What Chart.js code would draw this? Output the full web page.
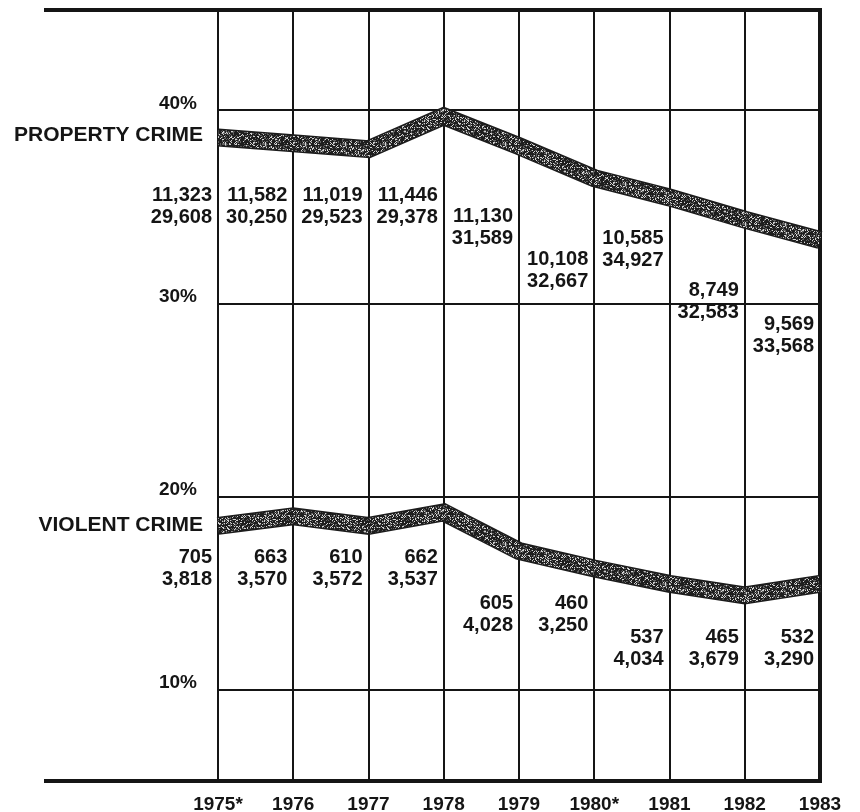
<!DOCTYPE html>
<html lang="en">
<head>
  <meta charset="UTF-8" />
  <title>Property and Violent Crime, 1975-1983</title>
  <script src="https://cdn.jsdelivr.net/npm/chart.js"></script>
  <style>
    html, body {
      margin: 0;
      padding: 0;
      background: #fff;
    }
    #wrap {
      width: 860px;
      height: 812px;
      position: relative;
    }
  </style>
</head>
<body>
  <div id="wrap"><canvas id="crimeChart"></canvas></div>

  <script>
    const years = ["1975*", "1976", "1977", "1978", "1979", "1980*", "1981", "1982", "1983"];

    // percent
    const propertyPct = [38.6, 38.3, 38.0, 39.7, 38.15, 36.5, 35.5, 34.35, 33.3];
    const violentPct = [18.5, 19.0, 18.5, 19.2, 17.2, 16.3, 15.5, 14.9, 15.5];

    // the two figures printed under each year
    const propertyCount = [11323, 11582, 11019, 11446, 11130, 10108, 10585, 8749, 9569];
    const propertyTotal = [29608, 30250, 29523, 29378, 31589, 32667, 34927, 32583, 33568];
    const violentCount = [705, 663, 610, 662, 605, 460, 537, 465, 532];
    const violentTotal = [3818, 3570, 3572, 3537, 4028, 3250, 4034, 3679, 3290];

    const yTicks = [10, 20, 30, 40];

    // where each pair of figures sits (axis percent)
    const propertyLabelAt = [35.6, 35.6, 35.6, 35.6, 34.5, 32.3, 33.35, 30.7, 28.95];
    const violentLabelAt = [16.85, 16.85, 16.85, 16.85, 14.5, 14.5, 12.75, 12.75, 12.75];

    const FONT = "'Liberation Sans', Arial, Helvetica, sans-serif";
    const INK = "#151515";

    const canvas = document.getElementById("crimeChart");
    const ctx = canvas.getContext("2d");

    // speckled grey fill for the bands, like the printed screen
    function stipple() {
      const size = 40;
      const c = document.createElement("canvas");
      c.width = size;
      c.height = size;
      const g = c.getContext("2d");
      const img = g.createImageData(size, size);
      for (let j = 0; j < size; j++) {
        for (let i = 0; i < size; i++) {
          const h = Math.abs(Math.sin(i * 12.9898 + j * 78.233) * 43758.5453) % 1;
          const v = h < 0.6 ? 30 : h < 0.82 ? 95 : 210;
          const k = (j * size + i) * 4;
          img.data[k] = v;
          img.data[k + 1] = v;
          img.data[k + 2] = v;
          img.data[k + 3] = 255;
        }
      }
      g.putImageData(img, 0, 0);
      return ctx.createPattern(c, "repeat");
    }
    const bandFill = stipple();

    function band(data, fill) {
      return {
        data: data,
        borderColor: fill ? bandFill : "#1c1c1c",
        borderWidth: fill ? 15 : 18,
        pointRadius: 0,
        pointHoverRadius: 0,
        tension: 0,
        borderJoinStyle: "miter",
        borderCapStyle: "butt",
        fill: false
      };
    }

    const frame = {
      id: "frame",
      beforeDatasetsDraw(chart) {
        const a = chart.chartArea;
        const c = chart.ctx;
        c.save();
        c.strokeStyle = INK;
        c.lineWidth = 4;
        c.beginPath();
        c.moveTo(44, a.top);
        c.lineTo(a.right + 2, a.top);
        c.moveTo(44, a.bottom);
        c.lineTo(a.right + 2, a.bottom);
        c.moveTo(a.right, a.top);
        c.lineTo(a.right, a.bottom);
        c.stroke();
        c.restore();
      }
    };

    const figures = {
      id: "figures",
      afterDatasetsDraw(chart) {
        const x = chart.scales.x;
        const y = chart.scales.y;
        const c = chart.ctx;
        c.save();
        c.fillStyle = INK;
        c.textAlign = "right";
        c.textBaseline = "middle";

        c.font = "bold 21px " + FONT;
        c.fillText("PROPERTY CRIME", chart.chartArea.left - 15, y.getPixelForValue(propertyPct[0]) - 2);
        c.fillText("VIOLENT CRIME", chart.chartArea.left - 15, y.getPixelForValue(violentPct[0]) - 1);

        c.font = "bold 20px " + FONT;
        const sets = [
          [propertyCount, propertyTotal, propertyLabelAt],
          [violentCount, violentTotal, violentLabelAt]
        ];
        sets.forEach(([top, bottom, at]) => {
          years.forEach((yr, i) => {
            const px = x.getPixelForValue(i) - 6;
            const py = y.getPixelForValue(at[i]);
            c.fillText(top[i].toLocaleString("en-US"), px, py);
            c.fillText(bottom[i].toLocaleString("en-US"), px, py + 22);
          });
        });
        c.restore();
      }
    };

    new Chart(canvas, {
      type: "line",
      data: {
        labels: years,
        datasets: [
          band(propertyPct, true),
          band(violentPct, true),
          band(propertyPct, false),
          band(violentPct, false)
        ]
      },
      options: {
        responsive: true,
        maintainAspectRatio: false,
        animation: false,
        events: [],
        layout: {
          padding: { top: 10, right: 40, bottom: 0, left: 0 }
        },
        plugins: {
          legend: { display: false },
          title: { display: false },
          tooltip: { enabled: false }
        },
        scales: {
          x: {
            type: "category",
            offset: false,
            afterFit(scale) { scale.height = 31; },
            grid: {
              color: INK,
              lineWidth: 2,
              drawTicks: false
            },
            border: { display: false },
            ticks: {
              color: INK,
              font: { family: FONT, size: 19, weight: "bold" },
              padding: 12,
              maxRotation: 0,
              autoSkip: false
            }
          },
          y: {
            type: "linear",
            min: 5.3,
            max: 45.2,
            afterFit(scale) {
              scale.width = 218;
              scale.paddingTop = 0;
              scale.paddingBottom = 0;
            },
            afterBuildTicks(scale) {
              scale.ticks = yTicks.map(v => ({ value: v }));
            },
            grid: {
              color: INK,
              lineWidth: 2,
              drawTicks: false
            },
            border: { display: false },
            ticks: {
              color: INK,
              font: { family: FONT, size: 19, weight: "bold" },
              padding: 21,
              labelOffset: -7,
              callback: v => v + "%"
            }
          }
        }
      },
      plugins: [frame, figures]
    });
  </script>
</body>
</html>
